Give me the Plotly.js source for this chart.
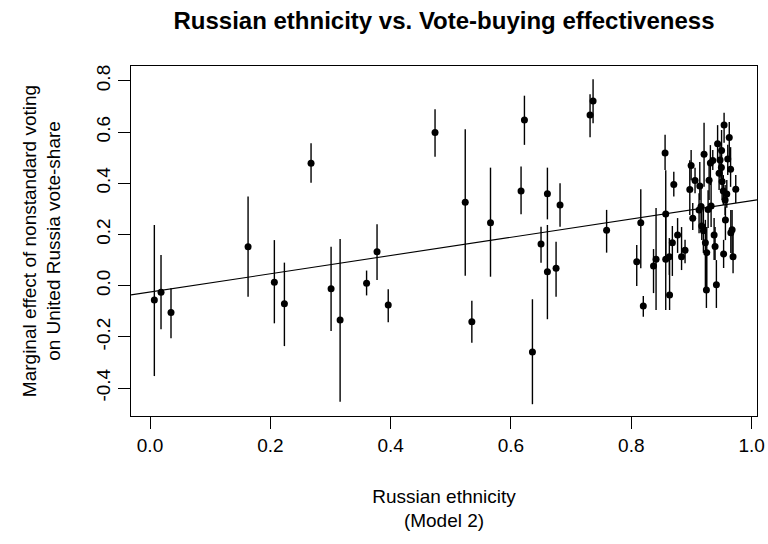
<!DOCTYPE html>
<html>
<head>
<meta charset="utf-8">
<script src="https://cdn.plot.ly/plotly-3.0.1.min.js"></script>
<style>
  html, body { margin: 0; padding: 0; background: #ffffff; }
  #chart { width: 768px; height: 544px; }
</style>
</head>
<body>
<div id="chart"></div>
<script>
// Russian ethnicity share (x)
const russianShare = [
  0.0072, 0.0183, 0.0349, 0.163, 0.2677, 0.2067, 0.2234, 0.301, 0.316, 0.360,
  0.3774, 0.396, 0.4738, 0.524, 0.535, 0.566, 0.6168, 0.6224, 0.6357, 0.650,
  0.6606, 0.6606, 0.675, 0.6816, 0.7315, 0.7365, 0.759,
  0.8091, 0.8158, 0.820, 0.837, 0.8412, 0.8562, 0.8573, 0.8573, 0.8633, 0.8637,
  0.8683, 0.8707, 0.877, 0.8836, 0.8894, 0.8973, 0.8995, 0.9022, 0.906, 0.9127,
  0.9139, 0.916, 0.9172, 0.9199, 0.921, 0.9232, 0.9255, 0.9249, 0.9277, 0.9294,
  0.9315, 0.9327, 0.9355, 0.9377, 0.9393, 0.9415, 0.9435, 0.946, 0.9476, 0.9501,
  0.9498, 0.951, 0.953, 0.9535, 0.9543, 0.956, 0.9565, 0.9588, 0.9604, 0.9629,
  0.9651, 0.9655, 0.9676, 0.9692, 0.9737
];
// Marginal effect estimate (y)
const marginalEffect = [
  -0.056, -0.026, -0.105, 0.152, 0.478, 0.013, -0.071, -0.012, -0.134, 0.009,
  0.133, -0.075, 0.598, 0.326, -0.141, 0.246, 0.370, 0.647, -0.259, 0.163,
  0.359, 0.054, 0.068, 0.315, 0.667, 0.721, 0.216,
  0.093, 0.246, -0.079, 0.077, 0.103, 0.518, 0.280, 0.103, 0.113, -0.036,
  0.168, 0.395, 0.198, 0.113, 0.138, 0.376, 0.469, 0.263, 0.411, 0.296,
  0.389, 0.309, 0.233, 0.215, 0.513, 0.168, 0.129, -0.017, 0.298, 0.412,
  0.479, 0.311, 0.489, 0.198, 0.153, 0.004, 0.554, 0.439, 0.491, 0.528,
  0.462, 0.407, 0.370, 0.124, 0.628, 0.335, 0.257, 0.358, 0.495, 0.579,
  0.455, 0.207, 0.218, 0.113, 0.377
];
// Upper end of interval
const upperBound = [
  0.237, 0.120, -0.010, 0.348, 0.556, 0.178, 0.090, 0.152, 0.182, 0.059,
  0.240, -0.014, 0.689, 0.611, -0.059, 0.461, 0.465, 0.742, -0.053, 0.230,
  0.461, 0.237, 0.172, 0.400, 0.748, 0.806, 0.296,
  0.159, 0.377, -0.040, 0.143, 0.303, 0.589, 0.451, 0.276, 0.186, 0.101,
  0.233, 0.445, 0.264, 0.229, 0.179, 0.490, 0.530, 0.323, 0.461, 0.361,
  0.483, 0.393, 0.307, 0.307, 0.636, 0.257, 0.229, 0.139, 0.373, 0.483,
  0.549, 0.401, 0.530, 0.264, 0.229, 0.100, 0.627, 0.499, 0.550, 0.608,
  0.530, 0.471, 0.432, 0.179, 0.675, 0.393, 0.307, 0.413, 0.550, 0.639,
  0.541, 0.296, 0.296, 0.218, 0.432
];
// Lower end of interval
const lowerBound = [
  -0.353, -0.170, -0.205, -0.043, 0.402, -0.147, -0.236, -0.177, -0.453, -0.038,
  0.022, -0.143, 0.504, 0.039, -0.223, 0.035, 0.279, 0.550, -0.463, 0.090,
  0.259, -0.131, -0.043, 0.230, 0.580, 0.634, 0.129,
  -0.001, 0.068, -0.121, -0.029, -0.095, 0.452, 0.108, -0.095, 0.042, -0.095,
  0.038, 0.348, 0.128, 0.061, 0.088, 0.276, 0.412, 0.217, 0.361, 0.205,
  0.335, 0.237, 0.178, 0.128, 0.386, -0.017, -0.017, -0.087, 0.225, 0.335,
  0.393, 0.229, 0.452, 0.100, 0.100, -0.087, 0.491, 0.374, 0.421, 0.460,
  0.393, 0.335, 0.315, 0.069, 0.558, 0.276, 0.178, 0.304, 0.432, 0.491,
  0.386, 0.128, 0.100, 0.049, 0.323
];
// Fitted line endpoints
const fitX = [-0.0316, 1.009];
const fitY = [-0.036, 0.335];

// Tick labels
const xTickVals = [0, 0.2, 0.4, 0.6, 0.8, 1.0];
const xTickText = ["0.0", "0.2", "0.4", "0.6", "0.8", "1.0"];
const yTickVals = [-0.4, -0.2, 0, 0.2, 0.4, 0.6, 0.8];
const yTickText = ["-0.4", "-0.2", "0.0", "0.2", "0.4", "0.6", "0.8"];

const errPlus = marginalEffect.map((v, i) => upperBound[i] - v);
const errMinus = marginalEffect.map((v, i) => v - lowerBound[i]);

const FONT = "Liberation Sans, Arial, sans-serif";

const traces = [
  {
    type: "scatter",
    mode: "lines",
    x: fitX,
    y: fitY,
    line: { color: "#000000", width: 1.1 },
    hoverinfo: "skip",
    showlegend: false
  },
  {
    type: "scatter",
    mode: "markers",
    x: russianShare,
    y: marginalEffect,
    marker: { color: "#000000", size: 7, line: { width: 0 } },
    error_y: {
      type: "data",
      symmetric: false,
      array: errPlus,
      arrayminus: errMinus,
      color: "#000000",
      thickness: 1.4,
      width: 0
    },
    showlegend: false
  }
];

const layout = {
  width: 768,
  height: 544,
  paper_bgcolor: "#ffffff",
  plot_bgcolor: "#ffffff",
  margin: { l: 131, r: 11, t: 66, b: 128, pad: 0 },
  font: { family: FONT, size: 19, color: "#000000" },
  title: {
    text: "<b>Russian ethnicity vs. Vote-buying effectiveness</b>",
    font: { family: FONT, size: 24, color: "#000000" },
    x: 0.5, xref: "paper", xanchor: "center",
    y: 1 - 21 / 544, yref: "container", yanchor: "middle"
  },
  xaxis: {
    range: [-0.0316, 1.009],
    tickvals: xTickVals,
    ticktext: xTickText,
    ticks: "outside",
    ticklen: 12,
    tickwidth: 1,
    tickcolor: "#000000",
    showline: true,
    mirror: true,
    linecolor: "#000000",
    linewidth: 1,
    showgrid: false,
    zeroline: false,
    tickfont: { family: FONT, size: 19, color: "#000000" },
    title: {
      text: "Russian ethnicity<br>(Model 2)",
      font: { family: FONT, size: 19, color: "#000000" },
      standoff: 34
    }
  },
  yaxis: {
    range: [-0.509, 0.858],
    tickvals: yTickVals,
    ticktext: yTickText,
    tickangle: -90,
    ticks: "outside",
    ticklen: 12,
    tickwidth: 1,
    tickcolor: "#000000",
    showline: true,
    mirror: true,
    linecolor: "#000000",
    linewidth: 1,
    showgrid: false,
    zeroline: false,
    tickfont: { family: FONT, size: 19, color: "#000000" },
    title: {
      text: "Marginal effect of nonstandard voting<br>on United Russia vote-share",
      font: { family: FONT, size: 19, color: "#000000" },
      standoff: 27
    }
  }
};

Plotly.newPlot("chart", traces, layout, { displayModeBar: false, staticPlot: true });
</script>
</body>
</html>
